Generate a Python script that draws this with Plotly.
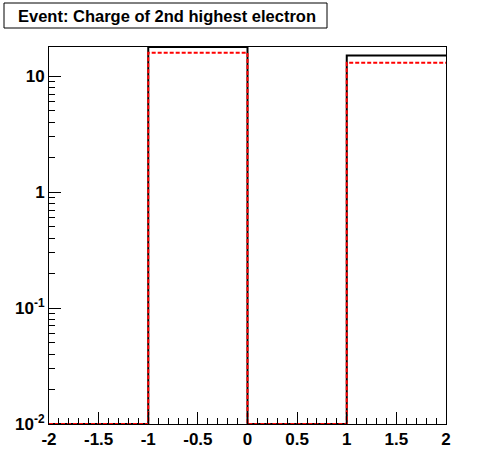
import numpy as np
import plotly.graph_objects as go

bin_edges = [-2, -1, 0, 1, 2]
black_counts = [0, 17.8, 0, 15.0]
red_counts = [0, 15.9, 0, 13.0]
ytick_vals = [0.01, 0.1, 1, 10]
ytick_text = ["10<sup>-2</sup>", "10<sup>-1</sup>", "1", "10"]
xtick_vals = [-2, -1.5, -1, -0.5, 0, 0.5, 1, 1.5, 2]
xtick_text = ["-2", "-1.5", "-1", "-0.5", "0", "0.5", "1", "1.5", "2"]
title_text = "Event: Charge of 2nd highest electron"

ymin = 0.01
ymax = 17.8

def step_y(counts):
    c = [max(v, ymin) for v in counts]
    return c + [c[-1]]

fig = go.Figure()
fig.add_trace(go.Scatter(x=bin_edges, y=step_y(black_counts), mode="lines",
                         line=dict(color="black", width=2, shape="hv"), showlegend=False,
                         cliponaxis=False))
fig.add_trace(go.Scatter(x=bin_edges, y=step_y(red_counts), mode="lines",
                         line=dict(color="red", width=2, shape="hv", dash="4px,2px"), showlegend=False,
                         cliponaxis=False))

font = dict(family="Liberation Sans, Arial, sans-serif", size=17, color="black", weight="bold")
tfont = dict(font, size=16.5)

L, T = 49, 47
PW, PH = 397, 377

fig.update_layout(
    width=496, height=472,
    margin=dict(l=L, r=50, t=T, b=48, autoexpand=False),
    paper_bgcolor="white", plot_bgcolor="white",
    font=font,
    xaxis=dict(range=[-2, 2], tickvals=xtick_vals, ticktext=xtick_text,
               ticks="inside", ticklen=12, tickwidth=1, tickcolor="black",
               showgrid=False, zeroline=False, showline=True, linecolor="black",
               linewidth=1, mirror=True, tickfont=font, automargin=False,
               minor=dict(ticks="inside", ticklen=6, dtick=0.1, tickcolor="black", showgrid=False)),
    yaxis=dict(type="log", range=[np.log10(ymin), np.log10(ymax)],
               tickvals=ytick_vals, ticktext=ytick_text,
               ticks="inside", ticklen=12, tickwidth=1, tickcolor="black",
               showgrid=False, zeroline=False, showline=True, linecolor="black",
               linewidth=1, mirror=True, tickfont=font, automargin=False,
               minor=dict(ticks="inside", ticklen=6, dtick="D1", tickcolor="black", showgrid=False)),
)

def px_x(px):
    return (px - L) / PW

def px_y(py):
    return (T + PH - py) / PH

fig.add_shape(type="rect", xref="paper", yref="paper",
              x0=px_x(4), x1=px_x(327), y0=px_y(28), y1=px_y(3),
              line=dict(color="black", width=1), fillcolor="white", layer="above")
fig.add_annotation(text=title_text, xref="paper", yref="paper",
                   x=px_x(16), y=px_y(15.5),
                   xanchor="left", yanchor="middle", showarrow=False, font=tfont)

fig.write_html("out.html", config={"displayModeBar": False},
               post_script="document.body.style.margin='0';")
